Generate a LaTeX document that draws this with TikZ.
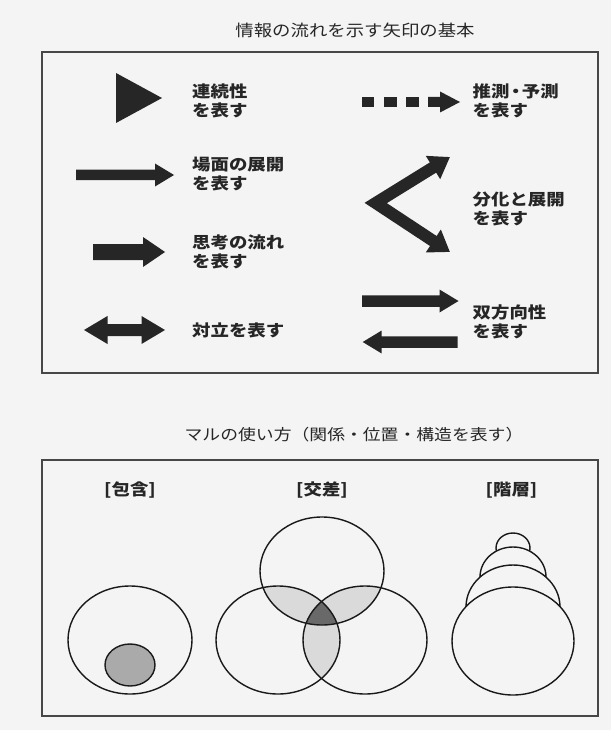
\documentclass[tikz,border=0pt]{standalone}
\usepackage{fontspec}
\newfontfamily\jp[FakeStretch=1.15]{Noto Sans CJK JP}
\usetikzlibrary{arrows.meta}
\definecolor{bg}{RGB}{244,244,244}
\definecolor{ink}{RGB}{38,38,38}
\definecolor{lite}{RGB}{218,218,218}
\definecolor{dark}{RGB}{105,105,105}
\definecolor{mid}{RGB}{170,170,170}
% right/left block arrow: tail x, tip x, y, shaft half height, head half height, signed head length
\newcommand{\blockarrow}[6]{%
  \fill[ink] (#1,#3-#4) -- (#2-#6,#3-#4) -- (#2-#6,#3-#5) -- (#2,#3) -- (#2-#6,#3+#5) -- (#2-#6,#3+#4) -- (#1,#3+#4) -- cycle;}
% double block arrow: left tip, right tip, y, shaft half, head half, head length
\newcommand{\dblarrow}[6]{%
  \fill[ink] (#1,#3) -- (#1+#6,#3-#5) -- (#1+#6,#3-#4) -- (#2-#6,#3-#4) -- (#2-#6,#3-#5) -- (#2,#3) -- (#2-#6,#3+#5) -- (#2-#6,#3+#4) -- (#1+#6,#3+#4) -- (#1+#6,#3+#5) -- cycle;}
\begin{document}
\begin{tikzpicture}[x=1pt,y=-1pt,
  lbl/.style={font=\jp\bfseries\fontsize{16}{19}\selectfont, anchor=west, align=left, inner sep=0pt, text=ink},
  ttl/.style={font=\jp\fontsize{16}{19}\selectfont, inner sep=0pt, text=black!85},
  hdg/.style={font=\jp\bfseries\fontsize{16}{19}\selectfont, inner sep=0pt, text=ink},
  frame/.style={draw=black!72, line width=1.2pt},
  ring/.style={draw=black!90, line width=1.4pt},
]
\fill[bg] (0,0) rectangle (611,730);
\useasboundingbox (0,0) rectangle (611,730);

% ---------- upper panel ----------
\node[ttl] (t1) at (355,30) {情報の流れを示す矢印の基本};
\draw[frame] (42,52) rectangle (598,373);

% continuity triangle
\fill[ink] (116,73) -- (162,98) -- (116,123) -- cycle;
\node[lbl] (l1) at (192,100.5) {連続性\\を表す};

% scene development arrow
\blockarrow{76}{174}{175}{5.25}{11.5}{19}
\node[lbl] (l2) at (192,174.5) {場面の展開\\を表す};

% flow of thought arrow
\blockarrow{93}{165}{252}{8}{15}{22}
\node[lbl] (l3) at (192,252) {思考の流れ\\を表す};

% opposition double arrow
\dblarrow{84}{165}{330}{6}{14}{23.5}
\node[lbl] (l4) at (192,330) {対立を表す};

% inference dashed arrow
\fill[ink] (362,97) rectangle (374,107);
\fill[ink] (384,97) rectangle (397,107);
\fill[ink] (406,97) rectangle (419,107);
\blockarrow{428}{460}{102}{5}{10.5}{20}
\node[lbl] (r1) at (472.5,101) {推測\kern-3pt・\kern-3pt予測\\を表す};

% differentiation V arrow
\draw[ink, line width=12pt, line join=miter,
  {Triangle[length=20pt,width=26pt]}-{Triangle[length=20pt,width=26pt]}]
  (450,157) -- (375.7,203) -- (450,252);
\node[lbl] (r2) at (472.5,209) {分化と展開\\を表す};

% bidirectional arrows
\blockarrow{362}{458.5}{301}{5.75}{11.5}{19}
\blockarrow{457.5}{362.7}{342}{5.75}{11.5}{-19}
\node[lbl] (r3) at (472.5,322) {双方向性\\を表す};

% ---------- lower panel ----------
\node[ttl, font=\jp\fontsize{15.5}{18}\selectfont] (t2) at (354,435) {マルの使い方（関係・位置・構造を表す）};
\draw[frame] (42,460) rectangle (598,716);

\node[hdg] (h1) at (130,490) {[包含]};
\node[hdg] (h2) at (322,490) {[交差]};
\node[hdg] (h3) at (511.5,490) {[階層]};

% inclusion
\draw[ring] (130,640) ellipse [x radius=62pt, y radius=54pt];
\draw[ring, fill=mid] (130,665) ellipse [x radius=25pt, y radius=21pt];

% intersection (Venn)
\begin{scope}
  \clip (322,571) ellipse [x radius=62pt, y radius=54pt];
  \fill[lite] (278,640) ellipse [x radius=62pt, y radius=54pt];
  \fill[lite] (365,640) ellipse [x radius=62pt, y radius=54pt];
\end{scope}
\begin{scope}
  \clip (278,640) ellipse [x radius=62pt, y radius=54pt];
  \fill[lite] (365,640) ellipse [x radius=62pt, y radius=54pt];
\end{scope}
\begin{scope}
  \clip (322,571) ellipse [x radius=62pt, y radius=54pt];
  \clip (278,640) ellipse [x radius=62pt, y radius=54pt];
  \fill[dark] (365,640) ellipse [x radius=62pt, y radius=54pt];
\end{scope}
\draw[ring] (322,571) ellipse [x radius=62pt, y radius=54pt];
\draw[ring] (278,640) ellipse [x radius=62pt, y radius=54pt];
\draw[ring] (365,640) ellipse [x radius=62pt, y radius=54pt];

% hierarchy
\draw[ring, fill=bg] (513,548) ellipse [x radius=17pt, y radius=15pt];
\draw[ring, fill=bg] (513,577) ellipse [x radius=33pt, y radius=30pt];
\draw[ring, fill=bg] (513,607) ellipse [x radius=47pt, y radius=42pt];
\draw[ring, fill=bg] (513,641) ellipse [x radius=61pt, y radius=54pt];
\end{tikzpicture}
\end{document}
